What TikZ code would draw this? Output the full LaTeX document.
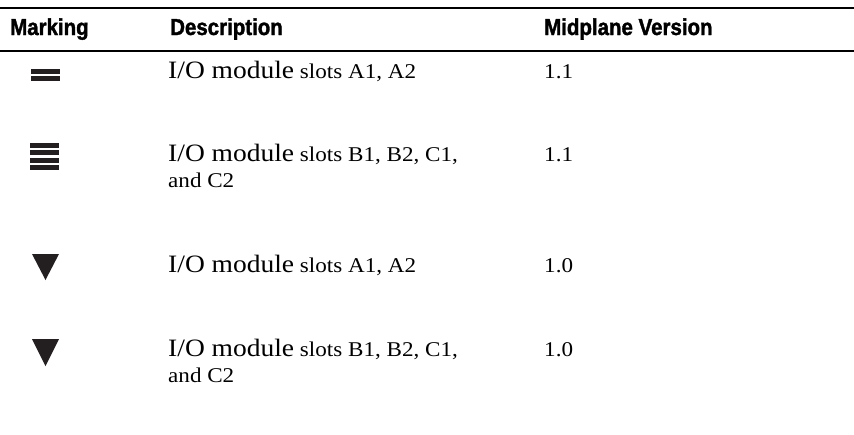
\documentclass[tikz,border=0pt]{standalone}
\usepackage{fontspec}
\setmainfont[FakeStretch=1.1]{Liberation Serif}
\newfontfamily\hdrfont[FakeStretch=0.89,FakeBold=1.6]{Liberation Sans Bold}
\definecolor{ink}{HTML}{231F20}
\begin{document}
\begin{tikzpicture}[x=1pt,y=-1pt,
  hdr/.style={anchor=base west,inner sep=0pt,font=\hdrfont\fontsize{23}{26}\selectfont},
  desc/.style={anchor=base west,inner sep=0pt,font=\fontsize{21}{26}\selectfont},
  ver/.style={anchor=base west,inner sep=0pt,font=\fontsize{21}{26}\selectfont},
  rulel/.style={line width=2.2pt,black},
  bar/.style={fill=ink,draw=none}]
\newcommand\bigIO{{\fontsize{25}{26}\selectfont I/O module}}
\useasboundingbox (0,0) rectangle (854,434);
\draw[rulel] (0,8) -- (854,8);
\draw[rulel] (0,51) -- (854,51);
\node[hdr] (h1) at (10,35) {Marking};
\node[hdr] (h2) at (170,35) {Description};
\node[hdr] (h3) at (544,35) {Midplane Version};
% row 1
\fill[bar] (31,69) rectangle (60,73.7);
\fill[bar] (31,76) rectangle (60,81);
\node[desc] (d1) at (168,78) {\bigIO{} slots A1, A2};
\node[ver] (v1) at (544,78) {1.1};
% row 2
\fill[bar] (30,143.3) rectangle (59,148);
\fill[bar] (30,150.3) rectangle (59,155);
\fill[bar] (30,157.7) rectangle (59,162.5);
\fill[bar] (30,165) rectangle (59,170);
\node[desc] (d2) at (168,161) {\bigIO{} slots B1, B2, C1,};
\node[desc] (d2b) at (168,187) {and C2};
\node[ver] (v2) at (544,161) {1.1};
% row 3
\fill[bar] (32,254) -- (59,254) -- (45.5,280) -- cycle;
\node[desc] (d3) at (168,272) {\bigIO{} slots A1, A2};
\node[ver] (v3) at (544,272) {1.0};
% row 4
\fill[bar] (32,339) -- (59,339) -- (45.5,366) -- cycle;
\node[desc] (d4) at (168,356) {\bigIO{} slots B1, B2, C1,};
\node[desc] (d4b) at (168,382) {and C2};
\node[ver] (v4) at (544,356) {1.0};
\end{tikzpicture}
\end{document}
